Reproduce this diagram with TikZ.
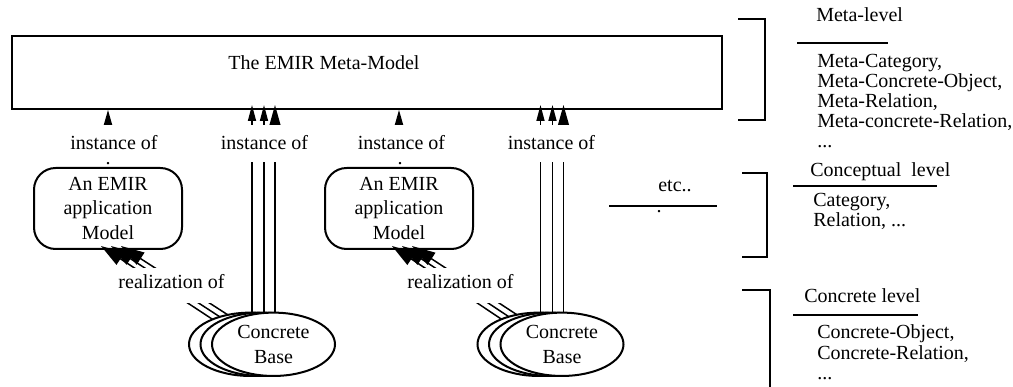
\documentclass[tikz,border=0pt]{standalone}
\usepackage{fontspec}
\setmainfont{Liberation Serif}
\usepackage{tikz}
\usetikzlibrary{shapes.geometric, arrows.meta, calc}
\pgfdeclarelayer{background}
\pgfsetlayers{background,main}
\tikzstyle{metabox} = [draw, line width=1.2pt, minimum width=426pt, minimum height=43.8pt, inner sep=0pt]
\tikzstyle{appmodel} = [draw, line width=1.2pt, rounded corners=13pt, minimum width=88.8pt, minimum height=48.6pt, inner sep=0pt, align=center, font=\fontsize{12}{14.7}\selectfont]
\tikzstyle{concbase} = [draw, ellipse, fill=white, line width=1.2pt, minimum width=73.8pt, minimum height=38pt, inner sep=0pt, align=center, font=\fontsize{12}{15}\selectfont]
\tikzstyle{instlabel} = [fill=white, inner sep=0pt, anchor=base, text height=15pt, text depth=7.2pt]
\tikzstyle{instdot} = [fill=white, inner xsep=3pt, inner ysep=0pt, anchor=base, text height=1.6pt, text depth=1.8pt]
\tikzstyle{reallabel} = [fill=white, inner sep=0pt, anchor=base, text height=12.6pt, text depth=8.4pt]
\tikzstyle{leveltext} = [anchor=base west, inner sep=0pt]
\tikzstyle{instline} = [line width=0.9pt, -{Triangle[length=9.6pt, width=4.8pt]}, shorten >=-3pt]
\tikzstyle{instmain} = [line width=0.9pt, -{Triangle[length=14.4pt, width=7.8pt]}, shorten >=-3pt]
\tikzstyle{instsingle} = [line width=0.9pt, -{Triangle[length=11pt, width=6pt]}]
\tikzstyle{realline} = [line width=0.9pt, -{Triangle[length=14pt, width=8.5pt]}]
\tikzstyle{bracket} = [line width=1.2pt]
\tikzstyle{rule} = [line width=1pt]

\begin{document}
\begin{tikzpicture}[x=0.6pt,y=-0.6pt,every node/.style={font=\fontsize{12}{14}\selectfont}]
\useasboundingbox (0,0) rectangle (1013,387);
% meta level
\node[metabox] (meta) at (367,72.5) {};
\node (metaname) at (324,63) {The EMIR Meta-Model};
% labels
\node[instlabel] (inst1) at (114,150) {instance of};
\node[instlabel] (inst2) at (264.5,150) {instance of};
\node[instlabel] (inst3) at (401.5,150) {instance of};
\node[instlabel] (inst4) at (551.5,150) {instance of};
\node[instdot] (dot1) at (108,165) {.};
\node[instdot] (dot2) at (400,165) {.};
\node[reallabel] (real1) at (171.5,289) {realization of};
\node[reallabel] (real2) at (460.5,289) {realization of};
% application models
\node[appmodel] (app1) at (108,208.5) {An EMIR\\application\\Model};
\node[appmodel] (app2) at (399,208.5) {An EMIR\\application\\Model};
% concrete bases, back to front
\foreach \k/\dx in {1/-23, 2/-11.5} {
  \node[concbase] (baseA\k) at (273.5+\dx,344.3) {};
  \node[concbase] (baseB\k) at (562+\dx,344.3) {};
}
\node[concbase] (baseA3) at (273.5,344.3) {Concrete\\Base};
\node[concbase] (baseB3) at (562,344.3) {Concrete\\Base};
% connectors
\begin{pgfonlayer}{background}
  \draw[instsingle] (app1.north) -- (app1.north |- meta.south);
  \draw[instsingle] (app2.north) -- (app2.north |- meta.south);
  \foreach \g in {A,B} {
    \foreach \k/\dx in {1/-21.5, 2/-9.5} {
      \coordinate (v\g\k) at ($(base\g3.center)+(\dx,0)$);
      \draw[instline] (v\g\k) -- (v\g\k |- meta.south);
    }
    \coordinate (v\g3) at ($(base\g3.center)+(1.5,0)$);
    \draw[instmain] (v\g3) -- (v\g3 |- meta.south);
  }
  \foreach \g/\app in {A/app1, B/app2} {
    \foreach \k/\dx in {1/-7, 2/3, 3/13}
      \draw[realline] (base\g\k.center) -- ($(\app.south)+(\dx,-4)$);
  }
\end{pgfonlayer}
% etc
\node[anchor=base] (etc) at (675,192) {etc..};
\draw[rule] (609,206) -- (717,206);
\node (etcdot) at (659,212) {.};
% levels
\draw[bracket] (738,19) -- (765,19) -- (765,120) -- (738,120);
\draw[bracket] (742,173) -- (767,173) -- (767,257) -- (742,257);
\draw[bracket] (742,290) -- (770,290) -- (770,387);
\draw[rule] (797,43) -- (888,43);
\draw[rule] (793,186) -- (937,186);
\draw[rule] (793,315) -- (918,315);
\node[leveltext] (metalevel) at (816,22) {Meta-level};
\node[leveltext] (metaitem1) at (817,68) {Meta-Category,};
\node[leveltext] (metaitem2) at (817,88) {Meta-Concrete-Object,};
\node[leveltext] (metaitem3) at (817,108) {Meta-Relation,};
\node[leveltext] (metaitem4) at (817,128) {Meta-concrete-Relation,};
\node[leveltext] (metaitem5) at (817,148) {...};
\node[leveltext] (conclevel) at (810,177) {Conceptual\ \ level};
\node[leveltext] (concitem1) at (813,207) {Category,};
\node[leveltext] (concitem2) at (813,227) {Relation, ...};
\node[leveltext] (crlevel) at (804,303) {Concrete level};
\node[leveltext] (critem1) at (817,339) {Concrete-Object,};
\node[leveltext] (critem2) at (817,360) {Concrete-Relation,};
\node[leveltext] (critem3) at (817,380) {...};
\end{tikzpicture}
\end{document}
